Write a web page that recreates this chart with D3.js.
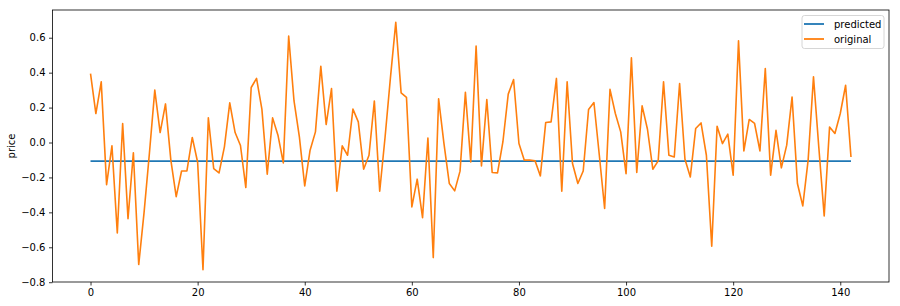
<!DOCTYPE html>
<html>
<head>
<meta charset="utf-8">
<script src="https://cdn.jsdelivr.net/npm/d3@7"></script>
<style>
  body { margin: 0; background: #fff; }
  svg { display: block; font-family: 'DejaVu Sans', sans-serif; }
</style>
</head>
<body>
<div id="chart"></div>
<script>
// original price series, index 0..142
var original = [
  0.395, 0.166, 0.347, -0.241, -0.019, -0.518, 0.109, -0.436, -0.059, -0.699,
  -0.40, -0.06, 0.30, 0.057, 0.221, -0.101, -0.31, -0.163, -0.163, 0.029,
  -0.113, -0.728, 0.141, -0.149, -0.174, -0.025, 0.227, 0.057, -0.017, -0.258,
  0.315, 0.367, 0.191, -0.182, 0.141, 0.042, -0.117, 0.609, 0.238, 0.032,
  -0.249, -0.044, 0.061, 0.437, 0.103, 0.309, -0.279, -0.019, -0.073, 0.191,
  0.118, -0.153, -0.073, 0.238, -0.279, 0.03, 0.37, 0.688, 0.284, 0.258,
  -0.369, -0.21, -0.43, 0.026, -0.659, 0.25, -0.006, -0.235, -0.277, -0.164,
  0.287, -0.111, 0.552, -0.134, 0.246, -0.172, -0.174, 0.003, 0.277, 0.361,
  -0.006, -0.101, -0.101, -0.105, -0.191, 0.115, 0.118, 0.367, -0.279, 0.347,
  -0.12, -0.235, -0.163, 0.189, 0.229, -0.07, -0.378, 0.304, 0.166, 0.061,
  -0.178, 0.485, -0.172, 0.21, 0.076, -0.153, -0.105, 0.347, -0.073, -0.083,
  0.338, -0.096, -0.197, 0.08, 0.112, -0.073, -0.594, 0.093, -0.006, 0.048,
  -0.187, 0.582, -0.048, 0.132, 0.109, -0.048, 0.424, -0.187, 0.07, -0.145,
  -0.015, 0.261, -0.235, -0.363, -0.101, 0.376, -0.03, -0.42, 0.089, 0.052,
  0.166, 0.328, -0.083
];
var predictedLevel = -0.107; // flat prediction across the whole range

var xTicks = [0, 20, 40, 60, 80, 100, 120, 140];
var yTicks = [-0.8, -0.6, -0.4, -0.2, 0.0, 0.2, 0.4, 0.6];
var seriesNames = ['predicted', 'original'];
var seriesColors = ['#1f77b4', '#ff7f0e'];

var W = 900, H = 306;
var m = { left: 52.5, right: 11, top: 10, bottom: 24 };

var svg = d3.select('#chart').append('svg')
  .attr('width', W)
  .attr('height', H);

var n = original.length - 1;
var x = d3.scaleLinear()
  .domain([-n * 0.05, n * 1.05])
  .range([m.left, W - m.right]);
var yMin = d3.min(original), yMax = d3.max(original);
var yPad = (yMax - yMin) * 0.05;
var y = d3.scaleLinear()
  .domain([yMin - yPad, yMax + yPad])
  .range([H - m.bottom, m.top]);

var line = d3.line()
  .x(function(d) { return x(d[0]); })
  .y(function(d) { return y(d[1]); });

// predicted line
svg.append('path')
  .datum([[0, predictedLevel], [n, predictedLevel]])
  .attr('d', line)
  .attr('fill', 'none')
  .attr('stroke', seriesColors[0])
  .attr('stroke-width', 1.8);

// original line
svg.append('path')
  .datum(original.map(function(v, i) { return [i, v]; }))
  .attr('d', line)
  .attr('fill', 'none')
  .attr('stroke', seriesColors[1])
  .attr('stroke-width', 1.6)
  .attr('stroke-linejoin', 'round');

// axes
var xAxis = svg.append('g')
  .attr('transform', 'translate(0,' + (H - m.bottom) + ')')
  .call(d3.axisBottom(x).tickValues(xTicks).tickSize(3.5).tickPadding(3.5).tickFormat(d3.format('d')));
var yAxis = svg.append('g')
  .attr('transform', 'translate(' + m.left + ',0)')
  .call(d3.axisLeft(y).tickValues(yTicks).tickSize(3.5).tickPadding(3.5)
    .tickFormat(function(d) { return d3.format('.1f')(d).replace('-', '\u2212'); }));

[xAxis, yAxis].forEach(function(g) {
  g.select('.domain').remove();
  g.selectAll('line').attr('stroke', '#000').attr('stroke-width', 0.8);
  g.selectAll('text').attr('fill', '#000').attr('font-size', 10)
    .attr('font-family', "'DejaVu Sans', sans-serif");
});

// frame
svg.append('rect')
  .attr('x', m.left)
  .attr('y', m.top)
  .attr('width', W - m.right - m.left)
  .attr('height', H - m.bottom - m.top)
  .attr('fill', 'none')
  .attr('stroke', '#000')
  .attr('stroke-width', 0.8);

// y label
svg.append('text')
  .attr('transform', 'translate(15,' + ((m.top + H - m.bottom) / 2) + ') rotate(-90)')
  .attr('text-anchor', 'middle')
  .attr('font-size', 10)
  .attr('fill', '#000')
  .text('price');

// legend
var lg = svg.append('g').attr('transform', 'translate(802,15.5)');
lg.append('rect')
  .attr('width', 82)
  .attr('height', 33)
  .attr('rx', 2.5)
  .attr('fill', '#fff')
  .attr('fill-opacity', 0.8)
  .attr('stroke', '#ccc')
  .attr('stroke-width', 0.8);
seriesNames.forEach(function(name, i) {
  var ly = 8.5 + i * 15;
  lg.append('line')
    .attr('x1', 2).attr('x2', 22)
    .attr('y1', ly).attr('y2', ly)
    .attr('stroke', seriesColors[i])
    .attr('stroke-width', 1.8);
  lg.append('text')
    .attr('x', 32)
    .attr('y', ly + 3.5)
    .attr('font-size', 10)
    .attr('fill', '#000')
    .text(name);
});
</script>
</body>
</html>
